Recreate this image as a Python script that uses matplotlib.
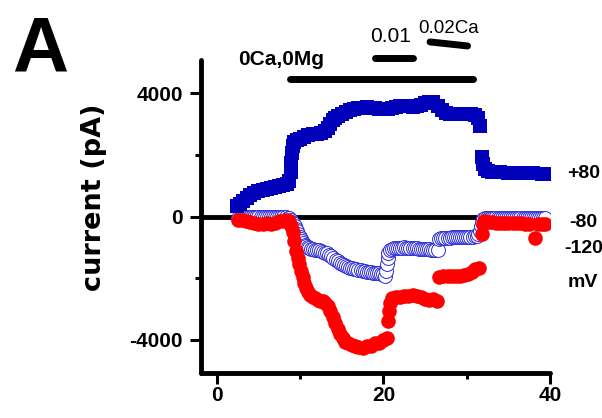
import matplotlib
matplotlib.use("Agg")
import matplotlib.pyplot as plt

plt.rcParams["axes.unicode_minus"] = False

# +80 mV trace (pA)
t_p80 = [2.4, 2.8, 3.2, 3.6, 4.0, 4.5, 5.0, 5.5, 6.0, 6.5, 7.0, 7.5, 8.0, 8.4, 8.7,
         8.85, 8.95, 9.05, 9.15, 9.3, 9.6, 10.0, 10.5, 11.0, 11.5, 12.0, 12.5, 13.0,
         13.3, 13.6, 13.9, 14.2, 14.6, 15.0, 15.5, 16.0, 16.5, 17.0, 17.5, 18.0, 18.5,
         19.0, 19.5, 20.0, 20.5, 21.0, 21.5, 22.0, 22.5, 23.0, 23.5, 24.0, 24.5, 25.0,
         25.5, 26.0, 26.5, 27.0, 27.5, 28.0, 28.5, 29.0, 29.5, 30.0, 30.5, 31.0, 31.3,
         31.6, 31.8, 32.0, 32.2, 32.5, 33.0, 33.5, 34.0, 35.0, 36.0, 37.0, 38.0, 39.0,
         39.4]
i_p80 = [330, 420, 520, 610, 690, 770, 820, 860, 890, 920, 950, 990, 1020, 1060, 1150,
         1450, 1750, 2050, 2300, 2430, 2480, 2520, 2580, 2640, 2680, 2690, 2720, 2790,
         2880, 3020, 3130, 3190, 3260, 3330, 3400, 3460, 3500, 3520, 3530, 3540, 3530,
         3520, 3500, 3490, 3490, 3520, 3550, 3580, 3600, 3590, 3570, 3580, 3620, 3680,
         3730, 3720, 3600, 3450, 3350, 3330, 3320, 3340, 3330, 3330, 3330, 3300, 3200,
         2950, 1950, 1700, 1560, 1480, 1450, 1440, 1440, 1430, 1420, 1410, 1400, 1390,
         1380]

# -80 mV trace (pA)
t_m80 = [2.5, 2.75, 3.0, 3.25, 3.5, 3.75, 4.0, 4.25, 4.5, 4.75, 5.0, 5.25, 5.5, 5.75,
         6.0, 6.25, 6.5, 6.75, 7.0, 7.25, 7.5, 7.75, 8.0, 8.25, 8.5, 8.7, 8.9, 9.05, 9.2,
         9.35, 9.5, 9.65, 9.8, 9.95, 10.1, 10.25, 10.4, 10.55, 10.7, 10.9, 11.1, 11.3,
         11.5, 11.75, 12.0, 12.25, 12.5, 12.75, 13.0, 13.25, 13.5, 13.75, 14.0, 14.25,
         14.5, 14.75, 15.0, 15.25, 15.5, 15.75, 16.0, 16.25, 16.5, 16.75, 17.0, 17.25,
         17.5, 17.75, 18.0, 18.25, 18.5, 18.75, 19.0, 19.25, 19.5, 19.75, 20.0, 20.2,
         20.35, 20.45, 20.5, 20.6, 20.75, 21.0, 21.25, 21.5, 21.75, 22.0, 22.25, 22.5,
         22.75, 23.0, 23.25, 23.5, 23.75, 24.0, 24.25, 24.5, 24.75, 25.0, 25.25, 25.5,
         25.75, 26.0, 26.25, 26.5, 26.7, 26.95, 27.2, 27.45, 27.7, 27.95, 28.2, 28.45,
         28.7, 28.95, 29.2, 29.45, 29.7, 29.95, 30.2, 30.45, 30.7, 30.95, 31.2, 31.4,
         31.55, 31.7, 31.85, 32.0, 32.2, 32.45, 32.7, 32.95, 33.2, 33.45, 33.7, 33.95,
         34.2, 34.45, 34.7, 34.95, 35.2, 35.45, 35.7, 35.95, 36.2, 36.45, 36.7, 36.95,
         37.2, 37.45, 37.7, 37.95, 38.2, 38.45, 38.7, 38.95, 39.2, 39.4]
i_m80 = [-30, -30, -28, -25, -25, -25, -25, -25, -25, -25, -25, -25, -25, -25, -25,
         -25, -25, -25, -25, -25, -25, -25, -25, -25, -30, -50, -100, -160, -220, -300,
         -390, -480, -570, -650, -730, -800, -860, -910, -950, -990, -1020, -1040,
         -1060, -1080, -1090, -1095, -1110, -1135, -1170, -1195, -1230, -1270, -1330,
         -1390, -1450, -1500, -1545, -1580, -1610, -1635, -1655, -1675, -1690, -1705,
         -1725, -1745, -1760, -1775, -1785, -1800, -1810, -1820, -1830, -1835, -1840,
         -1845, -1860, -1920, -1750, -1550, -1350, -1180, -1090, -1040, -1025, -1020,
         -1015, -1010, -1005, -1000, -1005, -1010, -1015, -1020, -1025, -1030, -1035,
         -1040, -1045, -1050, -1055, -1060, -1070, -1080, -1080, -1080, -720, -700,
         -690, -680, -680, -680, -675, -670, -670, -670, -665, -660, -660, -660, -655,
         -650, -645, -640, -620, -560, -450, -300, -160, -70, -40, -40, -40, -40, -40,
         -40, -40, -40, -40, -40, -40, -40, -40, -40, -40, -40, -40, -40, -40, -40, -40,
         -40, -40, -40, -40, -40, -40, -40, -40, -40]

# -120 mV trace (pA)
t_m120 = [2.5, 3.0, 3.5, 4.0, 4.5, 5.0, 5.5, 6.0, 6.5, 7.0, 7.5, 8.0, 8.4, 8.7, 8.9,
          9.1, 9.3, 9.5, 9.7, 9.9, 10.1, 10.3, 10.5, 10.7, 10.9, 11.2, 11.5, 11.8, 12.1,
          12.4, 12.7, 13.0, 13.3, 13.6, 13.9, 14.2, 14.5, 14.8, 15.1, 15.4, 15.8, 16.2,
          16.6, 17.0, 17.5, 18.0, 18.5, 19.0, 19.5, 20.0, 20.4, 20.6, 20.7, 20.8, 21.0,
          21.5, 22.0, 22.5, 23.0, 23.5, 24.0, 24.5, 25.0, 25.5, 26.0, 26.4, 26.7, 27.2,
          27.7, 28.2, 28.7, 29.2, 29.7, 30.2, 30.6, 31.0, 31.5, 31.8, 31.9, 32.1, 32.5,
          33.0, 33.5, 34.0, 34.5, 35.0, 35.5, 36.0, 36.5, 37.0, 37.5, 38.2, 38.6, 39.0,
          39.4]
i_m120 = [-110, -110, -130, -160, -200, -230, -240, -200, -230, -200, -150, -130, -120,
          -150, -300, -500, -800, -1100, -1350, -1550, -1750, -1950, -2150, -2300, -2450,
          -2550, -2600, -2650, -2700, -2720, -2750, -2800, -2900, -3050, -3250, -3450,
          -3650, -3800, -3950, -4050, -4100, -4150, -4200, -4220, -4250, -4200, -4180,
          -4100, -4100, -4000, -3950, -3400, -3050, -2800, -2650, -2620, -2600, -2580,
          -2560, -2540, -2560, -2620, -2680, -2700, -2680, -2750, -1950, -1940, -1930,
          -1920, -1930, -1920, -1880, -1850, -1780, -1700, -1650, -550, -250, -150, -170,
          -190, -200, -210, -210, -210, -220, -220, -220, -230, -230, -700, -240, -240,
          -230]

x_ticks = [0, 20, 40]
y_ticks = [-4000, 0, 4000]

# solution bars: (start, stop, level at start, level at stop, label, label x, label baseline)
bars = [
    (8.8, 30.8, 4466, 4466, "0Ca,0Mg", 2.6, 4920),
    (19.0, 23.6, 5157, 5157, "0.01", 18.4, 5677),
    (25.6, 30.1, 5665, 5535, "0.02Ca", 24.2, 5948),
]
bar_label_style = [("bold", 15), ("normal", 15), ("normal", 13.5)]

# holding potentials written at the right edge
trace_labels = ["+80", "-80", "-120", "mV"]
trace_label_y = [1249, -334, -1177, -2280]

fig = plt.figure(figsize=(6.02, 4.18), dpi=100)
ax = fig.add_axes([0.3339, 0.1077, 0.5797, 0.7488])

ax.axhline(0, color="k", lw=3.5, zorder=1)
ax.plot(t_m80, i_m80, "o", ms=10, mfc="white", mec="#2a2ad8", mew=0.7, zorder=2)
ax.plot(t_m120, i_m120, "o", ms=10.5, color="#ff0000", mew=0, zorder=3)
ax.plot(t_p80, i_p80, "s", ms=10.5, color="#0000bb", mew=0, zorder=4)

for (x0, x1, y0, y1, label, lx, ly), (weight, size) in zip(bars, bar_label_style):
    ax.plot([x0, x1], [y0, y1], color="k", lw=5, solid_capstyle="round", clip_on=False)
    ax.text(lx, ly, label, family="Liberation Sans", fontweight=weight, fontsize=size,
            ha="left", va="baseline", clip_on=False)

for label, y in zip(trace_labels, trace_label_y):
    ax.text(44.0, y, label, family="Liberation Sans", fontweight="bold", fontsize=14,
            ha="center", va="baseline", clip_on=False)

ax.set_xlim(-1.9, 40)
ax.set_ylim(-5070, 5080)
ax.set_xticks(x_ticks)
ax.set_yticks(y_ticks)
ax.set_xticks([10, 30], minor=True)
ax.set_yticks([-2000, 2000], minor=True)

for side in ["top", "right"]:
    ax.spines[side].set_visible(False)
for side in ["left", "bottom"]:
    ax.spines[side].set_linewidth(3.5)
    ax.spines[side].set_capstyle("round")

ax.tick_params(which="major", length=8, width=2.2, direction="out")
ax.tick_params(which="minor", length=4, width=2.2, direction="out")
ax.tick_params(axis="y", pad=5)
ax.tick_params(axis="x", pad=1.5)
for lab in ax.get_xticklabels() + ax.get_yticklabels():
    lab.set_family("Liberation Sans")
    lab.set_fontweight("bold")
    lab.set_fontsize(15)

fig.text(0.156, 0.5275, "current (pA)", rotation=90, ha="center", va="center",
         fontsize=19.5, fontweight="bold")
fig.text(0.02, 0.828, "A", family="Liberation Sans", fontweight="bold", fontsize=56,
         ha="left", va="baseline")

fig.savefig("out.png", dpi=100)
